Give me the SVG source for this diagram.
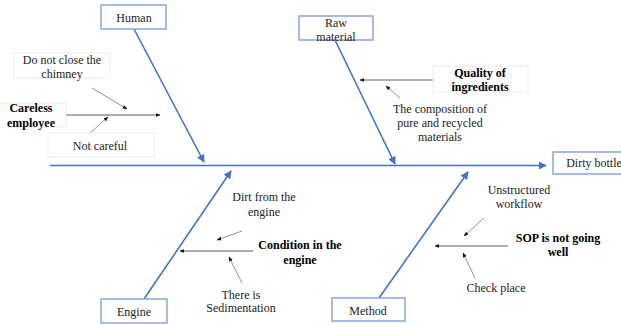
<svg xmlns="http://www.w3.org/2000/svg" width="621" height="324" viewBox="0 0 621 324">
  <defs>
    <marker id="blueHead" viewBox="0 0 10 10" refX="9" refY="5" markerWidth="5" markerHeight="5" orient="auto">
      <path d="M0,0 L10,5 L0,10 z" fill="#4472C4"/>
    </marker>
    <marker id="darkHead" viewBox="0 0 10 10" refX="9" refY="5" markerWidth="6" markerHeight="6" orient="auto">
      <path d="M0,1 L10,5 L0,9 z" fill="#111"/>
    </marker>
    <style>
      .bone { stroke: #4472C4; stroke-width: 1.6; fill: none; marker-end: url(#blueHead); }
      .cause { stroke: #333; stroke-width: 0.8; fill: none; marker-end: url(#darkHead); }
      .sub { stroke: #777; stroke-width: 0.8; fill: none; marker-end: url(#darkHead); }
      .cat { fill: #fff; stroke: #7FA2DA; stroke-width: 1.4; }
      .note { fill: #fff; stroke: #e6e6e6; stroke-width: 0.8; }
      text { font-family: 'Liberation Serif', 'DejaVu Serif', serif; font-size: 12px; fill: #222; text-anchor: middle; }
      .b { font-weight: bold; fill: #000; }
    </style>
  </defs>

  <rect width="621" height="324" fill="#fff"/>

  <!-- connectors: spine, category bones and cause arrows -->
  <g id="connectors">
    <line class="bone" x1="50" y1="165.5" x2="546" y2="165.5"/>
    <line class="bone" x1="134" y1="29" x2="204" y2="162"/>
    <line class="bone" x1="335" y1="40" x2="395" y2="164"/>
    <line class="bone" x1="144" y1="299" x2="231" y2="171"/>
    <line class="bone" x1="379" y1="298" x2="468" y2="172"/>

    <line class="cause" x1="66" y1="115" x2="160" y2="115"/>
    <line class="sub" x1="92" y1="88" x2="127" y2="109"/>
    <line class="sub" x1="89" y1="134" x2="108" y2="117"/>

    <line class="cause" x1="433" y1="80" x2="360" y2="80"/>
    <line class="sub" x1="400" y1="98" x2="386" y2="86"/>

    <line class="cause" x1="253" y1="251" x2="180" y2="251"/>
    <line class="sub" x1="242" y1="231" x2="217" y2="240"/>
    <line class="sub" x1="242" y1="283" x2="229" y2="257"/>

    <line class="cause" x1="508" y1="246" x2="435" y2="246"/>
    <line class="sub" x1="484" y1="218" x2="464" y2="236"/>
    <line class="sub" x1="475" y1="278" x2="463" y2="253"/>
  </g>

  <g font-family="Liberation Serif, DejaVu Serif, serif">
  <!-- category nodes -->
  <g id="human">
    <rect class="cat" x="101" y="5" width="65" height="24"/>
    <text x="134" y="22">Human</text>
  </g>
  <g id="raw-material">
    <rect class="cat" x="299" y="16" width="74" height="24"/>
    <text x="336" y="27">Raw</text>
    <text x="336" y="41">material</text>
  </g>
  <g id="engine">
    <rect class="cat" x="101" y="299" width="66" height="24"/>
    <text x="134" y="316">Engine</text>
  </g>
  <g id="method">
    <rect class="cat" x="332" y="298" width="73" height="23"/>
    <text x="368" y="315">Method</text>
  </g>
  <g id="dirty-bottle">
    <rect class="cat" x="553" y="152" width="72" height="22"/>
    <text x="594" y="167">Dirty bottle</text>
  </g>

  <!-- human causes -->
  <g id="careless-employee">
    <rect class="note" x="-1" y="103" width="67" height="24"/>
    <text class="b" x="31" y="112">Careless</text>
    <text class="b" x="31" y="127">employee</text>
  </g>
  <g id="do-not-close">
    <rect class="note" x="14" y="53" width="96" height="25"/>
    <text x="62" y="64">Do not close the</text>
    <text x="62" y="78">chimney</text>
  </g>
  <g id="not-careful">
    <rect class="note" x="48" y="133" width="106" height="24"/>
    <text x="100" y="150">Not careful</text>
  </g>

  <!-- raw material causes -->
  <g id="quality-of-ingredients">
    <rect class="note" x="433" y="66" width="95" height="26"/>
    <text class="b" x="480" y="77">Quality of</text>
    <text class="b" x="480" y="91">ingredients</text>
  </g>
  <g id="composition">
    <text x="440" y="113">The composition of</text>
    <text x="440" y="127">pure and recycled</text>
    <text x="440" y="141">materials</text>
  </g>

  <!-- engine causes -->
  <g id="dirt-from-engine">
    <text x="264" y="201">Dirt from the</text>
    <text x="264" y="216">engine</text>
  </g>
  <g id="condition-in-engine">
    <text class="b" x="300" y="249">Condition in the</text>
    <text class="b" x="300" y="264">engine</text>
  </g>
  <g id="sedimentation">
    <text x="241" y="299">There is</text>
    <text x="241" y="312">Sedimentation</text>
  </g>

  <!-- method causes -->
  <g id="unstructured-workflow">
    <text x="519" y="194">Unstructured</text>
    <text x="519" y="208">workflow</text>
  </g>
  <g id="sop-not-going-well">
    <text class="b" x="558" y="242">SOP is not going</text>
    <text class="b" x="558" y="256">well</text>
  </g>
  <g id="check-place">
    <text x="496" y="292">Check place</text>
  </g>
  </g>
</svg>
